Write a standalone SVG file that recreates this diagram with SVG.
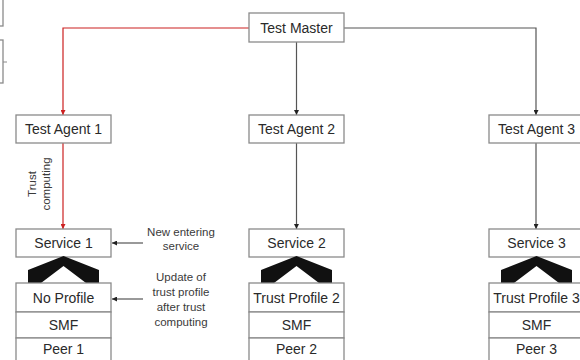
<svg xmlns="http://www.w3.org/2000/svg" width="580" height="360" viewBox="0 0 580 360">
<defs>
<style>
.box{fill:#fff;stroke:#8a8a8a;stroke-width:1.3}
.lbl{font-family:"Liberation Sans",Arial,sans-serif;font-size:14px;fill:#2a2a2a;text-anchor:middle}
.ann{font-family:"Liberation Sans",Arial,sans-serif;font-size:11.5px;fill:#3a3a3a;text-anchor:middle}
.ln{fill:none;stroke:#555;stroke-width:1.2}
.red{fill:none;stroke:#cc2020;stroke-width:1.2}
.chev{fill:#111}
</style>
<marker id="ah" viewBox="0 0 10 10" refX="10" refY="5" markerWidth="5" markerHeight="5" orient="auto" markerUnits="userSpaceOnUse"><path d="M0,0L10,5L0,10z" fill="#222"/></marker>
<marker id="ahr" viewBox="0 0 10 10" refX="10" refY="5" markerWidth="5" markerHeight="5" orient="auto" markerUnits="userSpaceOnUse"><path d="M0,0L10,5L0,10z" fill="#cc2020"/></marker>
</defs>
<rect width="580" height="360" fill="#fff"/>

<g id="edge-fragments">
<rect class="box" x="-50" y="-2" width="53" height="28"/>
<rect class="box" x="-50" y="40" width="53" height="43"/>
<line x1="3" y1="62" x2="7" y2="62" stroke="#8a8a8a" stroke-width="1"/>
</g>

<g id="connectors">
<path class="red" d="M249,28H63V115" marker-end="url(#ahr)"/>
<path class="red" d="M63,143V229" marker-end="url(#ahr)"/>
<path class="ln" d="M296.5,42V115" marker-end="url(#ah)"/>
<path class="ln" d="M344,28H536V115" marker-end="url(#ah)"/>
<path class="ln" d="M296.5,143V229" marker-end="url(#ah)"/>
<path class="ln" d="M536,143V229" marker-end="url(#ah)"/>
<path class="ln" d="M143,243H112" marker-end="url(#ah)"/>
<path class="ln" d="M143,299H112" marker-end="url(#ah)"/>
</g>

<g id="test-master">
<rect class="box" x="249" y="13" width="95" height="29"/>
<text class="lbl" x="296.5" y="32.5">Test Master</text>
</g>

<g id="test-agent-1">
<rect class="box" x="16" y="115" width="95" height="28"/>
<text class="lbl" x="63.5" y="134">Test Agent 1</text>
</g>
<g id="test-agent-2">
<rect class="box" x="249" y="115" width="95" height="28"/>
<text class="lbl" x="296.5" y="134">Test Agent 2</text>
</g>
<g id="test-agent-3">
<rect class="box" x="489" y="115" width="95" height="28"/>
<text class="lbl" x="536.5" y="134">Test Agent 3</text>
</g>

<g id="trust-computing-label">
<text class="ann" transform="translate(36,184) rotate(-90)" x="0" y="0">Trust</text>
<text class="ann" transform="translate(50,184) rotate(-90)" x="0" y="0">computing</text>
</g>

<g id="new-entering-label">
<text class="ann" x="181" y="236">New entering</text>
<text class="ann" x="181" y="250">service</text>
</g>
<g id="update-label">
<text class="ann" x="181" y="281">Update of</text>
<text class="ann" x="181" y="296">trust profile</text>
<text class="ann" x="181" y="311">after trust</text>
<text class="ann" x="181" y="326">computing</text>
</g>

<g id="peer-1">
<rect class="box" x="16" y="229" width="95" height="28"/>
<text class="lbl" x="63.5" y="248">Service 1</text>
<polygon class="chev" points="28,283 28,270 63.5,256 99,270 99,283 86,283 63.5,266 41,283"/>
<rect class="box" x="16" y="283" width="95" height="29"/>
<text class="lbl" x="63.5" y="302.5">No Profile</text>
<rect class="box" x="16" y="312" width="95" height="26"/>
<text class="lbl" x="63.5" y="330">SMF</text>
<rect class="box" x="16" y="338" width="95" height="24"/>
<text class="lbl" x="63.5" y="354">Peer 1</text>
</g>

<g id="peer-2">
<rect class="box" x="249" y="229" width="95" height="28"/>
<text class="lbl" x="296.5" y="248">Service 2</text>
<polygon class="chev" points="261,283 261,270 296.5,256 332,270 332,283 319,283 296.5,266 274,283"/>
<rect class="box" x="249" y="283" width="95" height="29"/>
<text class="lbl" x="296.5" y="302.5">Trust Profile 2</text>
<rect class="box" x="249" y="312" width="95" height="26"/>
<text class="lbl" x="296.5" y="330">SMF</text>
<rect class="box" x="249" y="338" width="95" height="24"/>
<text class="lbl" x="296.5" y="354">Peer 2</text>
</g>

<g id="peer-3">
<rect class="box" x="489" y="229" width="95" height="28"/>
<text class="lbl" x="536.5" y="248">Service 3</text>
<polygon class="chev" points="501,283 501,270 536.5,256 572,270 572,283 559,283 536.5,266 514,283"/>
<rect class="box" x="489" y="283" width="95" height="29"/>
<text class="lbl" x="536.5" y="302.5">Trust Profile 3</text>
<rect class="box" x="489" y="312" width="95" height="26"/>
<text class="lbl" x="536.5" y="330">SMF</text>
<rect class="box" x="489" y="338" width="95" height="24"/>
<text class="lbl" x="536.5" y="354">Peer 3</text>
</g>
</svg>
